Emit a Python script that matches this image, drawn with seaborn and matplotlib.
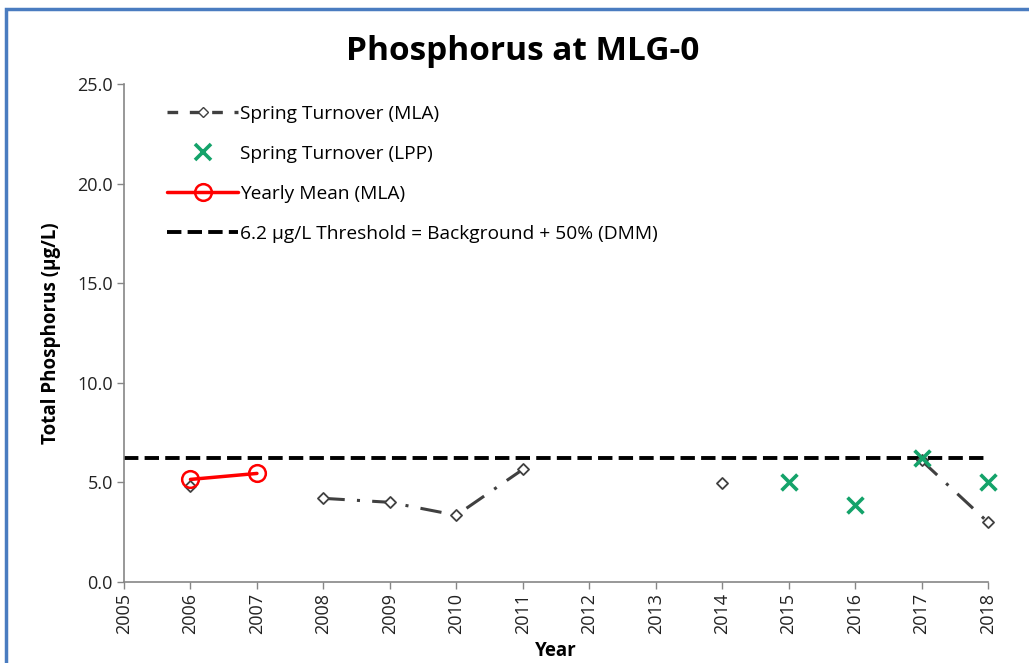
import numpy as np
import pandas as pd
import matplotlib
matplotlib.use("Agg")
import matplotlib.pyplot as plt
from matplotlib.lines import Line2D
from matplotlib.patches import Rectangle
import seaborn as sns

years = [2006, 2007, 2008, 2009, 2010, 2011, 2012, 2013, 2014, 2015, 2016, 2017, 2018]
spring_mla = [4.8, np.nan, 4.2, 4.0, 3.35, 5.65, np.nan, np.nan, 4.95, np.nan, np.nan, 6.1, 3.0]
lpp_years = [2015, 2016, 2017, 2018]
spring_lpp = [5.0, 3.85, 6.2, 5.0]
mean_years = [2006, 2007]
yearly_mean = [5.15, 5.45]
threshold_years = [2005, 2018]
threshold = [6.2, 6.2]
x_ticks = list(range(2005, 2019))
y_ticks = [0, 5, 10, 15, 20, 25]

title = "Phosphorus at MLG-0"
xlabel = "Year"
ylabel = "Total Phosphorus (µg/L)"
labels = ["Spring Turnover (MLA)", "Spring Turnover (LPP)", "Yearly Mean (MLA)",
          "6.2 µg/L Threshold = Background + 50% (DMM)"]

sns.set_theme(style="white")
plt.rcParams['font.family'] = ['Open Sans', 'DejaVu Sans']
plt.rcParams['text.color'] = 'black'
plt.rcParams['axes.labelcolor'] = 'black'

fig = plt.figure(figsize=(10.29, 6.63), dpi=100)
ax = fig.add_axes([124/1029, 1-582/663, (988-124)/1029, (582-84)/663])

gray = "#404040"
green = "#14a36a"
red = "#ff0000"
mla_dash = (0, (7, 4, 1, 4))

# Spring MLA: split into contiguous segments
df = pd.DataFrame({"year": years, "tp": spring_mla})
df["seg"] = df["tp"].isna().cumsum()
df = df.dropna()
sns.lineplot(data=df, x="year", y="tp", units="seg", estimator=None, ax=ax,
             color=gray, lw=2.2, linestyle=mla_dash, legend=False)
sns.scatterplot(data=df, x="year", y="tp", ax=ax, marker="D", s=32,
                facecolor="white", edgecolor=gray, linewidth=1.3, zorder=5,
                legend=False, clip_on=False)

# Threshold
sns.lineplot(x=threshold_years, y=threshold, ax=ax, color="black", lw=2.8,
             linestyle="--", legend=False)

# LPP
sns.scatterplot(x=lpp_years, y=spring_lpp, ax=ax, marker="x", s=130,
                color=green, linewidth=2.6, zorder=6, legend=False, clip_on=False)

# Yearly mean
sns.lineplot(x=mean_years, y=yearly_mean, ax=ax, color=red, lw=2.5,
             marker="o", markersize=12, markerfacecolor="none",
             markeredgecolor=red, markeredgewidth=1.8, zorder=7, legend=False)

ax.set_xlim(2005, 2018)
ax.set_ylim(0, 25)
ax.set_xticks(x_ticks)
ax.set_xticklabels([str(t) for t in x_ticks], rotation=90, fontsize=13, color="#222222")
ax.set_yticks(y_ticks)
ax.set_yticklabels([f"{t:.1f}" for t in y_ticks], fontsize=13, color="#222222")
ax.tick_params(axis="both", direction="out", length=5, width=1, color="#868686",
               bottom=True, left=True, pad=3)
for s in ["top", "right"]:
    ax.spines[s].set_visible(False)
for s in ["left", "bottom"]:
    ax.spines[s].set_color("#868686")
    ax.spines[s].set_linewidth(1.2)

ax.set_xlabel(xlabel, fontsize=13.5, fontweight="bold", labelpad=5)
ax.set_ylabel(ylabel, fontsize=13.5, fontweight="bold", labelpad=12)
fig.text(0.508, 1-52/663, title, ha="center", va="center", fontsize=24, fontweight="bold",
         color="black")

handles = [
    Line2D([], [], color=gray, lw=2.4, linestyle=(0, (3.2, 3.5)), marker="D", markersize=5,
           markerfacecolor="white", markeredgecolor=gray),
    Line2D([], [], color=green, lw=0, marker="x", markersize=11, markeredgewidth=2.6),
    Line2D([], [], color=red, lw=2.5, marker="o", markersize=12, markerfacecolor="none",
           markeredgewidth=1.8),
    Line2D([], [], color="black", lw=2.8, linestyle="--"),
]
leg = ax.legend(handles, labels, loc="upper left", bbox_to_anchor=(0.03, 0.993), frameon=False,
                fontsize=13.8, labelspacing=1.15, handlelength=3.7, handletextpad=0.12)
for t in leg.get_texts():
    t.set_color("black")

fig.patches.append(Rectangle((6/1029, -0.02), 1.1, 1 - 9/663 + 0.02, transform=fig.transFigure,
                             fill=False, edgecolor="#4a7cc0", linewidth=2.5))

fig.savefig("out.png", dpi=100)
